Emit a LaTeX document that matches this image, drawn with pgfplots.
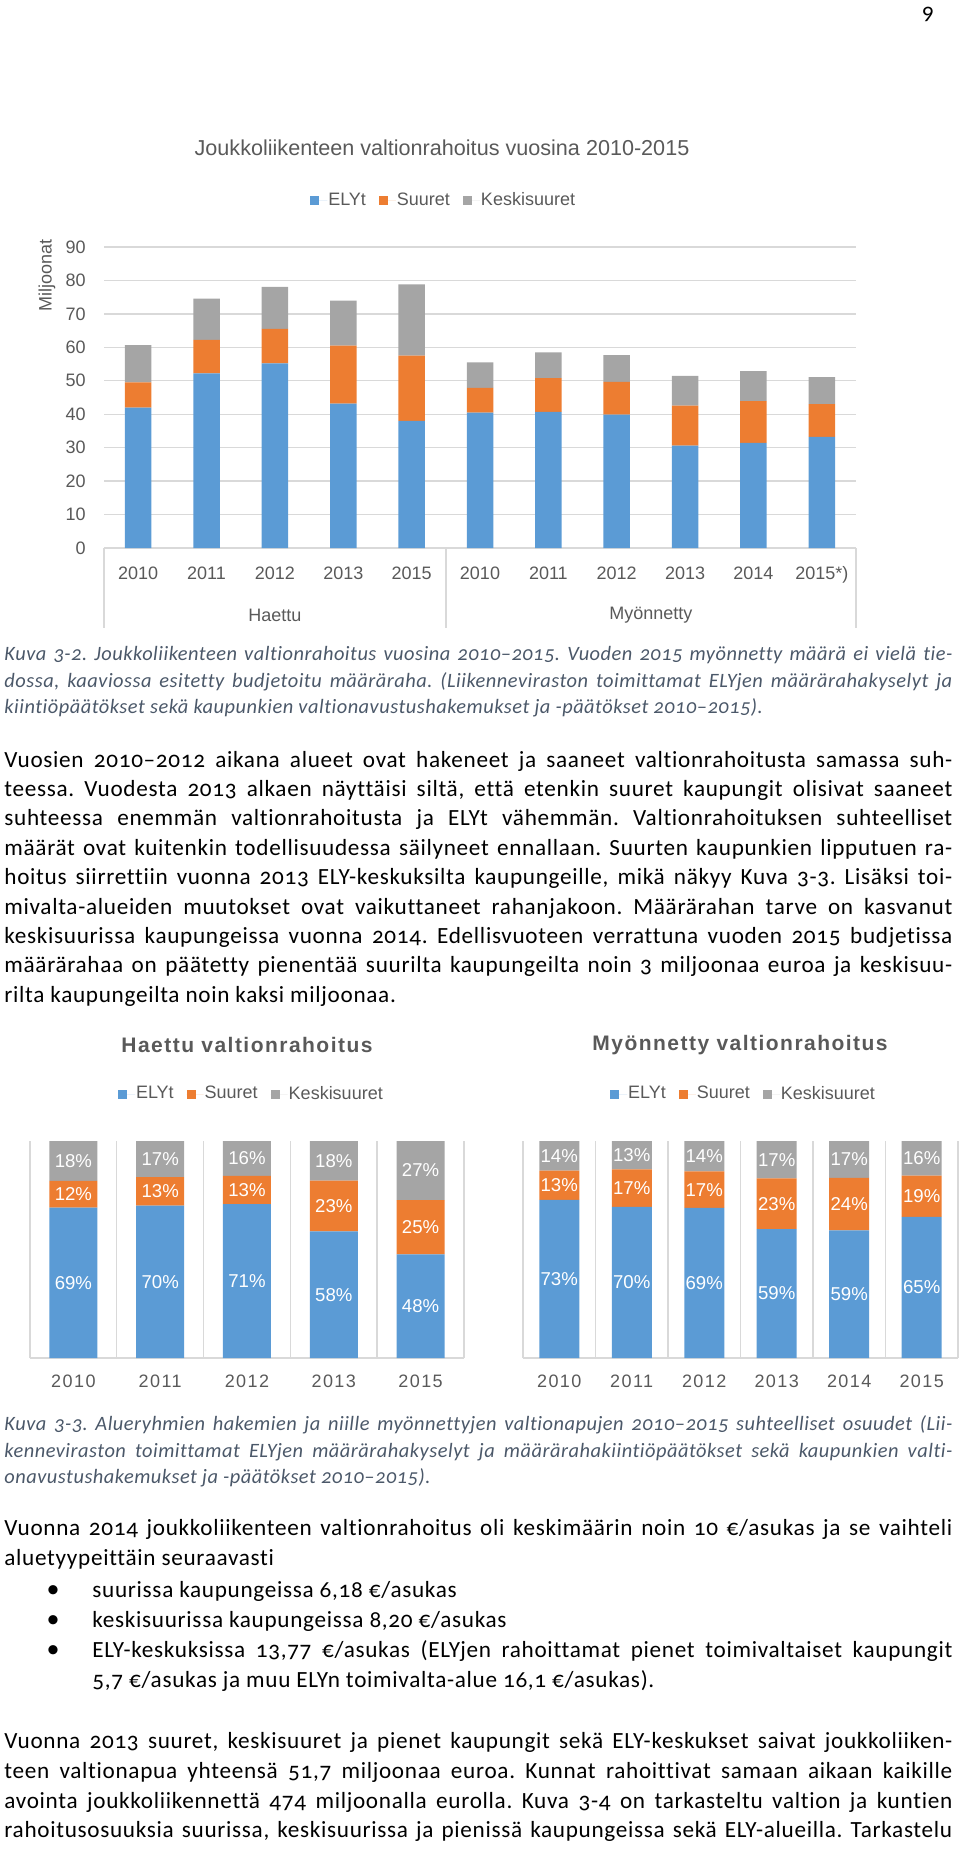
\documentclass[border=0pt]{standalone}
\usepackage{pgfplots}
\pgfplotsset{compat=1.18}
\usepackage{fontspec}
\setmainfont{Carlito}[Numbers=OldStyle, LetterSpace=3, Ligatures=NoCommon]
\newfontfamily\capfont{Carlito}[Numbers=OldStyle, LetterSpace=2.5, Ligatures=NoCommon]
\newfontfamily\arial{Liberation Sans}
\newfontfamily\arialsp{Liberation Sans}[LetterSpace=8]
\newfontfamily\arialtt{Liberation Sans}[LetterSpace=7]
\definecolor{cE}{HTML}{5B9BD5}
\definecolor{cS}{HTML}{ED7D31}
\definecolor{cK}{HTML}{A5A5A5}
\definecolor{txt}{HTML}{595959}
\definecolor{gridc}{HTML}{D9D9D9}
\definecolor{capc}{HTML}{4B5869}
\frenchspacing
\newcommand\JL[2]{\node[anchor=base west,inner sep=0pt] at (4,#1) {\makebox[474pt][s]{#2}};}
\newcommand\LL[2]{\node[anchor=base west,inner sep=0pt] at (4,#1) {#2};}
\newcommand\CJ[2]{\node[anchor=base west,inner sep=0pt,text=capc,font=\capfont\itshape\fontsize{10.2}{12}\selectfont] at (4,#1) {\makebox[474pt][s]{#2}};}
\newcommand\CL[2]{\node[anchor=base west,inner sep=0pt,text=capc,font=\capfont\itshape\fontsize{10.2}{12}\selectfont] at (4,#1) {#2};}
\newcommand\BUL[1]{\node[anchor=base,inner sep=0pt,font=\fontsize{13}{13}\selectfont] at (53,#1) {•};}
\newcommand\BL[2]{\BUL{#1}\node[anchor=base west,inner sep=0pt] at (92,#1) {#2};}
\tikzset{chartfont/.style={font=\arial\fontsize{9}{10}\selectfont, text=txt}}
\pgfplotsset{
  sqlegend/.style={
    legend style={anchor=center, legend columns=3, draw=none, fill=none,
      font=\arial\fontsize{9}{10}\selectfont, text=txt,
      nodes={inner sep=0.5pt},
      /tikz/every even column/.append style={column sep=6pt}},
    legend image code/.code={\fill[##1] (0pt,-2.25pt) rectangle (4.5pt,2.25pt); \path (0pt,0pt) -- (8.5pt,0pt);},
  },
}
\begin{document}
\begin{tikzpicture}
\path[use as bounding box] (0,0) rectangle (480pt,-924.5pt);

% ---------------- Chart 1 ----------------
\begin{axis}[
  at={(52pt,-274pt)}, anchor=south west,
  scale only axis, width=376pt, height=150.5pt,
  ybar stacked, bar width=13.25pt,
  xmin=-0.5, xmax=10.5, ymin=0, ymax=90,
  xtick=data,
  xticklabels={2010,2011,2012,2013,2015,2010,2011,2012,2013,2014,2015*)},
  ytick={0,10,...,90},
  major tick length=0pt,
  axis line style={draw=none},
  ymajorgrids, grid style={draw=gridc, line width=0.7pt},
  tick label style={chartfont},
  xticklabel style={anchor=center, text height=6.5pt, text depth=1.5pt, yshift=-13pt},
  yticklabel style={anchor=east, inner sep=0pt, xshift=-9pt},
  /pgf/number format/assume math mode=true,
  sqlegend,
  legend style={at={(0.451,1.153)}},
  clip=false,
]
\addplot[fill=cE, draw=none] coordinates {(0,42.0) (1,52.2) (2,55.2) (3,43.2) (4,38.0) (5,40.5) (6,40.7) (7,39.9) (8,30.6) (9,31.4) (10,33.2)};
\addplot[fill=cS, draw=none] coordinates {(0,7.5) (1,10.0) (2,10.3) (3,17.3) (4,19.5) (5,7.4) (6,10.1) (7,9.8) (8,12.0) (9,12.5) (10,9.8)};
\addplot[fill=cK, draw=none] coordinates {(0,11.2) (1,12.4) (2,12.6) (3,13.5) (4,21.3) (5,7.6) (6,7.7) (7,8.0) (8,8.9) (9,9.0) (10,8.1)};
\legend{ELYt,Suuret,Keskisuuret}
\draw[gridc, line width=0.7pt] (axis cs:-0.5,0) -- (axis cs:10.5,0);
\draw[gridc, line width=0.7pt] (axis cs:-0.5,0) -- ([yshift=-40pt]axis cs:-0.5,0);
\draw[gridc, line width=0.7pt] (axis cs:4.5,0) -- ([yshift=-40pt]axis cs:4.5,0);
\draw[gridc, line width=0.7pt] (axis cs:10.5,0) -- ([yshift=-40pt]axis cs:10.5,0);
\node[chartfont] at ([yshift=-33.5pt]axis cs:2,0) {Haettu};
\node[chartfont] at ([yshift=-33.5pt]axis cs:7.5,0) {Myönnetty};
\node[chartfont, rotate=90] at (axis description cs:-0.0758,0.907) {Miljoonat};
\node[font=\arial\fontsize{10.8}{12}\selectfont, text=txt] at (axis description cs:0.4495,1.329) {Joukkoliikenteen valtionrahoitus vuosina 2010-2015};
\end{axis}

% ---------------- Chart 2 left ----------------
\begin{axis}[
  at={(15pt,-679pt)}, anchor=south west,
  scale only axis, width=217pt, height=108.5pt,
  ybar stacked, bar width=24pt,
  xmin=-0.5, xmax=4.5, ymin=0, ymax=100,
  xtick=data, xticklabels={2010,2011,2012,2013,2015}, ytick=\empty,
  minor xtick={-0.5,0.5,1.5,2.5,3.5,4.5}, xminorgrids,
  minor grid style={draw=gridc, line width=0.7pt},
  major tick length=0pt, minor tick length=0pt,
  axis line style={draw=none},
  xticklabel style={font=\arialsp\fontsize{9}{10}\selectfont, text=txt, anchor=center, text height=6.5pt, text depth=1.5pt, yshift=-12pt},
  sqlegend,
  legend style={at={(0.509,1.2166)}},
  clip=false,
]
\addplot[fill=cE, draw=none] coordinates {(0,69.3) (1,70.2) (2,70.9) (3,58.4) (4,47.8)};
\addplot[fill=cS, draw=none] coordinates {(0,12.3) (1,13.2) (2,13.0) (3,23.4) (4,25.0)};
\addplot[fill=cK, draw=none] coordinates {(0,18.4) (1,16.6) (2,16.1) (3,18.2) (4,27.2)};
\legend{ELYt,Suuret,Keskisuuret}
\draw[gridc, line width=0.7pt] (axis cs:-0.5,0) -- (axis cs:4.5,0);
\node[font=\arialtt\bfseries\fontsize{10.5}{12}\selectfont, text=txt] at (axis description cs:0.5,1.442) {Haettu valtionrahoitus};
\end{axis}
\begin{axis}[
  at={(15pt,-679pt)}, anchor=south west,
  scale only axis, width=217pt, height=108.5pt,
  xmin=-0.5, xmax=4.5, ymin=0, ymax=100, hide axis,
  /pgf/number format/assume math mode=true,
  clip=false,
]
\addplot[draw=none, mark=none, nodes near coords={\pgfmathprintnumber[fixed,precision=0]{\pgfplotspointmeta}\%},
  point meta=explicit,
  every node near coord/.append style={anchor=center, font=\arial\fontsize{9.3}{10}\selectfont, text=white}]
  table[meta=m] {
x y m
0 34.65 69
0 75.45 12
0 90.8 18
1 35.1 70
1 76.8 13
1 91.7 17
2 35.45 71
2 77.4 13
2 91.95 16
3 29.2 58
3 70.1 23
3 90.9 18
4 23.9 48
4 60.3 25
4 86.4 27
};
\end{axis}

% ---------------- Chart 2 right ----------------
\begin{axis}[
  at={(261.5pt,-679pt)}, anchor=south west,
  scale only axis, width=217.5pt, height=108.5pt,
  ybar stacked, bar width=20pt,
  xmin=-0.5, xmax=5.5, ymin=0, ymax=100,
  xtick=data, xticklabels={2010,2011,2012,2013,2014,2015}, ytick=\empty,
  minor xtick={-0.5,0.5,1.5,2.5,3.5,4.5,5.5}, xminorgrids,
  minor grid style={draw=gridc, line width=0.7pt},
  major tick length=0pt, minor tick length=0pt,
  axis line style={draw=none},
  xticklabel style={font=\arialsp\fontsize{9}{10}\selectfont, text=txt, anchor=center, text height=6.5pt, text depth=1.5pt, yshift=-12pt},
  sqlegend,
  legend style={at={(0.506,1.2166)}},
  clip=false,
]
\addplot[fill=cE, draw=none] coordinates {(0,72.9) (1,69.6) (2,69.2) (3,59.4) (4,58.8) (5,65.0)};
\addplot[fill=cS, draw=none] coordinates {(0,13.4) (1,17.3) (2,16.8) (3,23.4) (4,24.2) (5,19.1)};
\addplot[fill=cK, draw=none] coordinates {(0,13.7) (1,13.1) (2,14.0) (3,17.2) (4,17.0) (5,15.9)};
\legend{ELYt,Suuret,Keskisuuret}
\draw[gridc, line width=0.7pt] (axis cs:-0.5,0) -- (axis cs:5.5,0);
\node[font=\arialtt\bfseries\fontsize{10.5}{12}\selectfont, text=txt] at (axis description cs:0.499,1.442) {Myönnetty valtionrahoitus};
\end{axis}
\begin{axis}[
  at={(261.5pt,-679pt)}, anchor=south west,
  scale only axis, width=217.5pt, height=108.5pt,
  xmin=-0.5, xmax=5.5, ymin=0, ymax=100, hide axis,
  /pgf/number format/assume math mode=true,
  clip=false,
]
\addplot[draw=none, mark=none, nodes near coords={\pgfmathprintnumber[fixed,precision=0]{\pgfplotspointmeta}\%},
  point meta=explicit,
  every node near coord/.append style={anchor=center, font=\arial\fontsize{9.3}{10}\selectfont, text=white}]
  table[meta=m] {
x y m
0 36.45 73
0 79.6 13
0 93.15 14
1 34.8 70
1 78.25 17
1 93.45 13
2 34.6 69
2 77.6 17
2 93.0 14
3 29.7 59
3 71.1 23
3 91.4 17
4 29.4 59
4 70.9 24
4 91.5 17
5 32.5 65
5 74.55 19
5 92.05 16
};
\end{axis}

% ---------------- Text ----------------
\begin{scope}[x=0.5pt, y=-0.5pt, font=\fontsize{11.6}{13}\selectfont]
\node[anchor=center, inner sep=0pt] at (928,14) {9};

\CJ{660}{Kuva 3-2. Joukkoliikenteen valtionrahoitus vuosina 2010–2015. Vuoden 2015 myönnetty määrä ei vielä tie-}
\CJ{687}{dossa, kaaviossa esitetty budjetoitu määräraha. (Liikenneviraston toimittamat ELYjen määrärahakyselyt ja}
\CL{713}{kiintiöpäätökset sekä kaupunkien valtionavustushakemukset ja -päätökset 2010–2015).}

\JL{767}{Vuosien 2010–2012 aikana alueet ovat hakeneet ja saaneet valtionrahoitusta samassa suh-}
\JL{796.4}{teessa. Vuodesta 2013 alkaen näyttäisi siltä, että etenkin suuret kaupungit olisivat saaneet}
\JL{825.8}{suhteessa enemmän valtionrahoitusta ja ELYt vähemmän. Valtionrahoituksen suhteelliset}
\JL{855.2}{määrät ovat kuitenkin todellisuudessa säilyneet ennallaan. Suurten kaupunkien lipputuen ra-}
\JL{884.6}{hoitus siirrettiin vuonna 2013 ELY-keskuksilta kaupungeille, mikä näkyy Kuva 3-3. Lisäksi toi-}
\JL{914}{mivalta-alueiden muutokset ovat vaikuttaneet rahanjakoon. Määrärahan tarve on kasvanut}
\JL{943.4}{keskisuurissa kaupungeissa vuonna 2014. Edellisvuoteen verrattuna vuoden 2015 budjetissa}
\JL{972.8}{määrärahaa on päätetty pienentää suurilta kaupungeilta noin 3 miljoonaa euroa ja keskisuu-}
\LL{1002.2}{rilta kaupungeilta noin kaksi miljoonaa.}

\CJ{1430}{Kuva 3-3. Alueryhmien hakemien ja niille myönnettyjen valtionapujen 2010–2015 suhteelliset osuudet (Lii-}
\CJ{1457}{kenneviraston toimittamat ELYjen määrärahakyselyt ja määrärahakiintiöpäätökset sekä kaupunkien valti-}
\CL{1483}{onavustushakemukset ja -päätökset 2010–2015).}

\JL{1535}{Vuonna 2014 joukkoliikenteen valtionrahoitus oli keskimäärin noin 10 €/asukas ja se vaihteli}
\LL{1565}{aluetyypeittäin seuraavasti}
\BL{1597}{suurissa kaupungeissa 6,18 €/asukas}
\BL{1627}{keskisuurissa kaupungeissa 8,20 €/asukas}
\BUL{1657}
\node[anchor=base west,inner sep=0pt] at (92,1657) {\makebox[430pt][s]{ELY-keskuksissa 13,77 €/asukas (ELYjen rahoittamat pienet toimivaltaiset kaupungit}};
\node[anchor=base west,inner sep=0pt] at (92,1687) {5,7 €/asukas ja muu ELYn toimivalta-alue 16,1 €/asukas).};

\JL{1748}{Vuonna 2013 suuret, keskisuuret ja pienet kaupungit sekä ELY-keskukset saivat joukkoliiken-}
\JL{1778}{teen valtionapua yhteensä 51,7 miljoonaa euroa. Kunnat rahoittivat samaan aikaan kaikille}
\JL{1808}{avointa joukkoliikennettä 474 miljoonalla eurolla. Kuva 3-4 on tarkasteltu valtion ja kuntien}
\JL{1837}{rahoitusosuuksia suurissa, keskisuurissa ja pienissä kaupungeissa sekä ELY-alueilla. Tarkastelu}
\end{scope}
\end{tikzpicture}
\end{document}
